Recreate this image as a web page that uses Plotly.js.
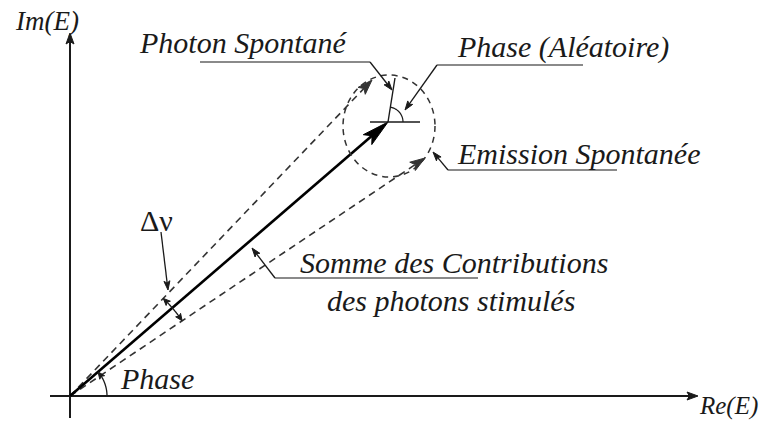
<!DOCTYPE html>
<html>
<head>
<meta charset="utf-8">
<script src="https://cdn.plot.ly/plotly-3.0.1.min.js"></script>
</head>
<body style="margin:0">
<div id="chart"></div>
<script>
// ---- Phasor values (Re, Im), diagram units ----
const origin = [0, 0];
const stimulatedSum = [318, 274];      // sum of stimulated photon contributions
const upperStimulated = [302, 316];    // upper bound (Δν spread)
const lowerStimulated = [355, 238];    // lower bound (Δν spread)
const spontaneousTip = [325, 318];     // spontaneous photon added at the tip
const spontaneousRadius = [46, 51];    // spontaneous emission circle
const reAxisExtent = [-20, 628];
const imAxisExtent = [-22, 363];

// ---- Labels ----
const axisLabels = ["Re(E)", "Im(E)"];
const calloutLabels = ["Photon Spontané", "Phase (Aléatoire)", "Emission Spontanée",
                       "Somme des Contributions", "des photons stimulés", "Phase", "Δν"];

// ---- helpers ----
const INK = "#1a1a1a", GREY = "#8a8a8a";
const SERIF = "Liberation Serif";
function sub(a,b){return [a[0]-b[0],a[1]-b[1]];}
function add(a,b){return [a[0]+b[0],a[1]+b[1]];}
function mul(a,k){return [a[0]*k,a[1]*k];}
function unit(a){const l=Math.hypot(a[0],a[1]);return [a[0]/l,a[1]/l];}
function pt(p){return p[0].toFixed(2)+","+p[1].toFixed(2);}
const shapes = [];
function line(a,b,color,width,dash){
  shapes.push({type:"line",xref:"x",yref:"y",x0:a[0],y0:a[1],x1:b[0],y1:b[1],
    line:{color:color,width:width,dash:dash||"solid"}});
}
function head(tip,from,len,hw,color){
  const d=unit(sub(tip,from)), n=[-d[1],d[0]];
  const base=sub(tip,mul(d,len)), notch=sub(tip,mul(d,len*0.78));
  const b1=add(base,mul(n,hw)), b2=sub(base,mul(n,hw));
  shapes.push({type:"path",xref:"x",yref:"y",
    path:"M"+pt(tip)+"L"+pt(b1)+"L"+pt(notch)+"L"+pt(b2)+"Z",
    fillcolor:color,line:{color:color,width:1}});
}
function arrow(from,tip,color,width,len,hw,dash){
  const d=unit(sub(tip,from));
  line(from,sub(tip,mul(d,len*0.6)),color,width,dash);
  head(tip,from,len,hw,color);
}
function arcPts(c,r,a0,a1){
  const pts=[];const N=24;
  for(let i=0;i<=N;i++){const t=(a0+(a1-a0)*i/N)*Math.PI/180;pts.push([c[0]+r*Math.cos(t),c[1]+r*Math.sin(t)]);}
  return pts;
}
function arc(c,r,a0,a1,color,width){
  const p=arcPts(c,r,a0,a1);
  shapes.push({type:"path",xref:"x",yref:"y",path:"M"+p.map(pt).join("L"),line:{color:color,width:width}});
  return p;
}
function angle(v){return Math.atan2(v[1],v[0])*180/Math.PI;}

// axes
arrow([reAxisExtent[0],0],[reAxisExtent[1],0],INK,2,11,4);
arrow([0,imAxisExtent[0]],[0,imAxisExtent[1]],INK,2,11,4);

// stimulated contributions (dashed bounds) and their sum
arrow(origin,upperStimulated,"#333",1.6,15,5,"7px,5px");
arrow(origin,lowerStimulated,"#333",1.6,15,5,"7px,5px");
arrow(origin,stimulatedSum,"#000",2.6,27,6.5);

// spontaneous emission circle and photon
shapes.push({type:"circle",xref:"x",yref:"y",
  x0:stimulatedSum[0]+1-spontaneousRadius[0],x1:stimulatedSum[0]+1+spontaneousRadius[0],
  y0:stimulatedSum[1]-4-spontaneousRadius[1],y1:stimulatedSum[1]-4+spontaneousRadius[1],
  line:{color:"#333",width:1.5,dash:"6px,5px"}});
line([stimulatedSum[0]-18,stimulatedSum[1]],[stimulatedSum[0]+32,stimulatedSum[1]],INK,1.6);
line(stimulatedSum,spontaneousTip,INK,1.4);
arc(stimulatedSum,15,0,angle(sub(spontaneousTip,stimulatedSum)),INK,1.2);

// phase arc at origin
const aSum=angle(stimulatedSum);
const pa=arcPts(origin,37,0,aSum);
arc(origin,37,0,aSum-6,INK,1.3);
head(pa[pa.length-1],pa[pa.length-6],7,3,INK);

// Δν arc between the two dashed bounds
const aUp=angle(upperStimulated), aLo=angle(lowerStimulated);
const da=arcPts(origin,135,aLo,aUp);
arc(origin,135,aLo+2.5,aUp-2.5,INK,1.3);
head(da[da.length-1],da[da.length-5],7,3,INK);
head(da[0],da[4],7,3,INK);

// callout leaders
line([130,334],[300,334],GREY,2); arrow([300,334],[322,306],INK,1.3,9,3);
line([367,331],[513,331],GREY,2); arrow([367,331],[335,286],INK,1.3,9,3);
line([378,226],[547,226],GREY,2); arrow([378,226],[363,244],INK,1.3,9,3);
line([205,118],[408,118],GREY,2); arrow([205,118],[182,148],INK,1.3,9,3);
arrow([91,164],[98,106],INK,1.3,9,3);

// text
const textPos = [[67,354],[385,349],[385,243],[228,134],[255,96],[48,18],[68,176]];
const annotations = calloutLabels.map((t,i)=>({
  text:t,x:textPos[i][0],y:textPos[i][1],xref:"x",yref:"y",xanchor:"left",yanchor:"middle",
  showarrow:false,font:{family:SERIF,size:30,color:INK,style:(t==="Δν")?"normal":"italic"}
}));
annotations.push({text:axisLabels[0],x:690,y:-26,xref:"x",yref:"y",xanchor:"right",yanchor:"bottom",
  showarrow:false,font:{family:SERIF,size:25,color:INK,style:"italic"}});
annotations.push({text:axisLabels[1],x:-57,y:375,xref:"x",yref:"y",xanchor:"left",yanchor:"middle",
  showarrow:false,font:{family:SERIF,size:27,color:INK,style:"italic"}});

const layout = {
  width:764,height:423,margin:{l:0,r:0,t:0,b:0},
  paper_bgcolor:"#fff",plot_bgcolor:"#fff",showlegend:false,
  font:{family:SERIF},
  xaxis:{range:[-70,694],visible:false},
  yaxis:{range:[-27,396],visible:false},
  shapes:shapes,annotations:annotations
};
Plotly.newPlot("chart",[],layout,{displayModeBar:false});
</script>
</body>
</html>
